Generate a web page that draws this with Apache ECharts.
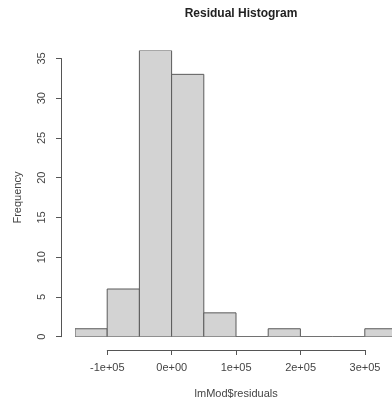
<!DOCTYPE html>
<html>
<head>
<meta charset="utf-8">
<script src="https://cdn.jsdelivr.net/npm/echarts@6/dist/echarts.min.js"></script>
<style>
  html, body { margin: 0; padding: 0; background: #fff; }
  #chart { width: 392px; height: 403px; }
</style>
</head>
<body>
<div id="chart"></div>
<script>
// histogram bins (left edges) and counts
const binStarts = [-150000, -100000, -50000, 0, 50000, 100000, 150000, 200000, 250000, 300000]
const counts = [1, 6, 36, 33, 3, 0, 1, 0, 0, 1]
const binWidth = 50000
// axis tick values and labels (R style)
const xTicks = [-100000, 0, 100000, 200000, 300000]
const xTickLabels = ['-1e+05', '0e+00', '1e+05', '2e+05', '3e+05']
const yTicks = [0, 5, 10, 15, 20, 25, 30, 35]

const font = 'Liberation Sans, Arial, sans-serif'
const axisColor = '#555'
const textColor = '#444'

let chart = echarts.init(document.getElementById('chart'))

let option = {
  animation: false,
  backgroundColor: '#fff',
  title: {
    text: 'Residual Histogram',
    left: 236,
    top: 3,
    textAlign: 'center',
    textStyle: { fontFamily: font, fontSize: 12, fontWeight: 'bold', color: '#222' }
  },
  grid: [
    // bars
    { left: 75, top: 50.5, width: 322, height: 286.2, outerBoundsMode: 'none' },
    // y axis (0..35)
    { left: 61, top: 58.5, width: 1, height: 278.2, outerBoundsMode: 'none' },
    // x axis (-1e5..3e5)
    { left: 107.3, top: 349, width: 257.7, height: 1, outerBoundsMode: 'none' }
  ],
  xAxis: [
    { gridIndex: 0, type: 'value', min: -150000, max: 350000, show: false },
    { gridIndex: 1, type: 'value', min: 0, max: 1, show: false },
    {
      gridIndex: 2,
      type: 'value',
      min: -100000,
      max: 300000,
      interval: 100000,
      position: 'bottom',
      axisLine: { show: true, lineStyle: { color: axisColor, width: 1 } },
      axisTick: { show: true, length: 5, lineStyle: { color: axisColor } },
      splitLine: { show: false },
      axisLabel: {
        margin: 12,
        fontFamily: font,
        fontSize: 11,
        color: textColor,
        formatter: v => xTickLabels[xTicks.indexOf(v)]
      },
      name: 'lmMod$residuals',
      nameLocation: 'middle',
      nameGap: 38,
      nameTextStyle: { fontFamily: font, fontSize: 11, color: textColor }
    }
  ],
  yAxis: [
    { gridIndex: 0, type: 'value', min: 0, max: 36, show: false },
    {
      gridIndex: 1,
      type: 'value',
      min: yTicks[0],
      max: yTicks[yTicks.length - 1],
      interval: 5,
      position: 'left',
      axisLine: { show: true, lineStyle: { color: axisColor, width: 1 } },
      axisTick: { show: true, length: 5, lineStyle: { color: axisColor } },
      splitLine: { show: false },
      axisLabel: {
        rotate: 90,
        margin: 14,
        fontFamily: font,
        fontSize: 11,
        color: textColor
      },
      name: 'Frequency',
      nameLocation: 'middle',
      nameRotate: 90,
      nameGap: 38,
      nameTextStyle: { fontFamily: font, fontSize: 11, color: textColor }
    },
    { gridIndex: 2, type: 'value', min: 0, max: 1, show: false }
  ],
  series: [
    {
      type: 'custom',
      xAxisIndex: 0,
      yAxisIndex: 0,
      clip: true,
      data: binStarts.map((s, i) => [s, s + binWidth, counts[i]]),
      renderItem: (params, api) => {
        let p0 = api.coord([api.value(0), 0])
        let p1 = api.coord([api.value(1), api.value(2)])
        return {
          type: 'rect',
          shape: { x: p0[0], y: p1[1], width: p1[0] - p0[0], height: p0[1] - p1[1] },
          style: { fill: '#d3d3d3', stroke: '#5a5a5a', lineWidth: 1 }
        }
      }
    }
  ]
}

chart.setOption(option)
</script>
</body>
</html>
